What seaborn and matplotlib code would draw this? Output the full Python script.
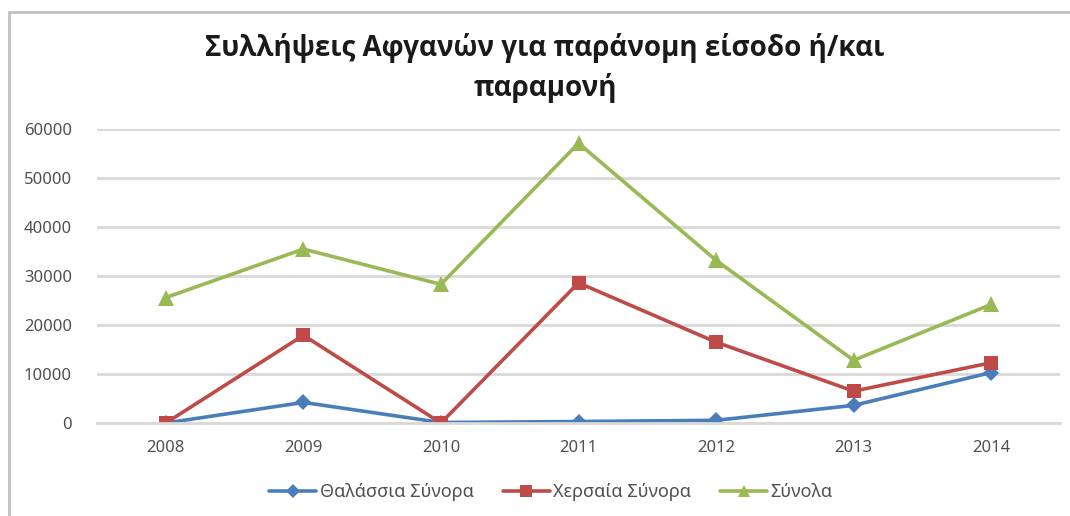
import matplotlib
matplotlib.use("Agg")
import matplotlib.pyplot as plt
from matplotlib.lines import Line2D
import seaborn as sns
import pandas as pd

years = ["2008", "2009", "2010", "2011", "2012", "2013", "2014"]
sea = [0, 4200, 100, 300, 550, 3600, 10300]
land = [0, 17900, 0, 28600, 16500, 6500, 12300]
total = [25600, 35500, 28300, 57100, 33200, 12800, 24200]
series_names = ["Θαλάσσια Σύνορα", "Χερσαία Σύνορα", "Σύνολα"]
yticks = [0, 10000, 20000, 30000, 40000, 50000, 60000]
title = "Συλλήψεις Αφγανών για παράνομη είσοδο ή/και\nπαραμονή"

sns.set_theme(style="white")
plt.rcParams["font.family"] = ["Noto Sans", "DejaVu Sans"]

fig = plt.figure(figsize=(10.7, 5.16), dpi=100)
ax = fig.add_axes([97 / 1070, 1 - 423 / 516, (1060 - 97) / 1070, (423 - 129) / 516])

styles = [
    (sea, "#4A7EBB", "D", 8.5),
    (land, "#BE4B48", "s", 10),
    (total, "#98B954", "^", 11),
]
for name, (vals, col, mk, ms) in zip(series_names, styles):
    df = pd.DataFrame({"year": years, "value": vals})
    sns.lineplot(data=df, x="year", y="value", ax=ax, color=col, marker=mk,
                 markersize=ms, markeredgewidth=0, linewidth=2.6, label=name,
                 sort=False)

ax.set_xlim(-0.5, len(years) - 0.5)
ax.set_ylim(0, 60000)
ax.set_yticks(yticks)
ax.set_yticklabels([str(v) for v in yticks])
ax.yaxis.grid(True, color="#d9d9d9", linewidth=2)
ax.set_axisbelow(True)
ax.set_xlabel("")
ax.set_ylabel("")
for s in ["top", "right", "left"]:
    ax.spines[s].set_visible(False)
ax.spines["bottom"].set_color("#d9d9d9")
ax.spines["bottom"].set_linewidth(2)
ax.tick_params(axis="both", length=0, labelsize=12, labelcolor="#505050")
ax.tick_params(axis="y", pad=18)
ax.tick_params(axis="x", pad=12)

fig.text(545 / 1070, 1 - 68 / 516, title, ha="center", va="center",
         fontsize=20, fontweight="bold", color="#1a1a1a", linespacing=1.45,
         family=["Open Sans", "DejaVu Sans"])

ax.legend(loc="center", bbox_to_anchor=(551 / 1070, 1 - 492 / 516),
          bbox_transform=fig.transFigure, ncol=3, frameon=False,
          fontsize=13, handlelength=2.6, handletextpad=0.2, columnspacing=1.6,
          labelcolor="#505050", markerscale=0.8)

fig.add_artist(Line2D([9 / 1070, 9 / 1070], [0, 1 - 12 / 516], color="#c0c0c0", lw=2,
                      transform=fig.transFigure))
fig.add_artist(Line2D([9 / 1070, 1], [1 - 12 / 516, 1 - 12 / 516], color="#c0c0c0", lw=2,
                      transform=fig.transFigure))

fig.savefig("out.png", dpi=100)
